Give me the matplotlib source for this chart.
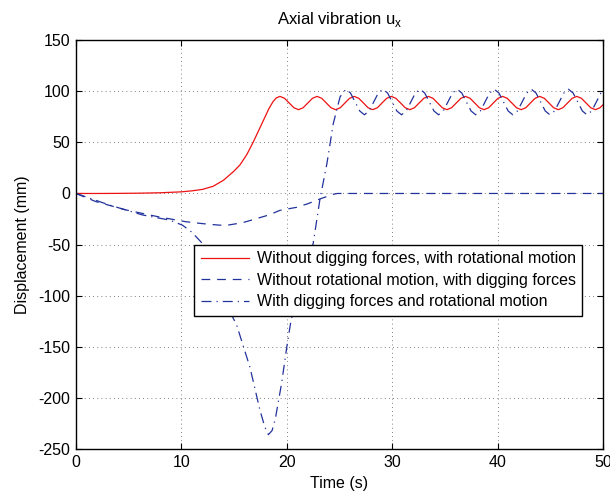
import numpy as np
import matplotlib
matplotlib.use('Agg')
from matplotlib import pyplot as plt

plt.rcParams['font.family'] = ['Liberation Sans', 'DejaVu Sans']
plt.rcParams['axes.unicode_minus'] = False

# red: without digging forces, with rotational motion
t_red = [0, 2, 4, 6, 8, 10, 11, 12, 13, 14, 15, 15.56, 16.2, 16.8, 17.3, 17.8, 18.3, 18.7, 19.0,
         19.35, 19.79, 20.23, 20.67, 21.11, 21.55, 21.99, 22.43,
         22.87, 23.31, 23.75, 24.19, 24.63, 25.07, 25.51, 25.95,
         26.39, 26.83, 27.27, 27.71, 28.15, 28.59, 29.03, 29.47,
         29.91, 30.35, 30.79, 31.23, 31.67, 32.11, 32.55, 32.99,
         33.43, 33.87, 34.31, 34.75, 35.19, 35.63, 36.07, 36.51,
         36.95, 37.39, 37.83, 38.27, 38.71, 39.15, 39.59, 40.03,
         40.47, 40.91, 41.35, 41.79, 42.23, 42.67, 43.11, 43.55,
         43.99, 44.43, 44.87, 45.31, 45.75, 46.19, 46.63, 47.07,
         47.51, 47.95, 48.39, 48.83, 49.27, 49.71, 50.0]
u_red = [0, 0, 0.1, 0.3, 0.7, 1.6, 2.6, 4.0, 7.0, 13.0, 22.0, 28.0, 38.0, 50.0, 61.0, 72.0, 83.0, 90.0, 93.5,
         95.0, 93.1, 88.5, 83.9, 82.0, 83.9, 88.5, 93.1,
         95.0, 93.1, 88.5, 83.9, 82.0, 83.9, 88.5, 93.1,
         95.0, 93.1, 88.5, 83.9, 82.0, 83.9, 88.5, 93.1,
         95.0, 93.1, 88.5, 83.9, 82.0, 83.9, 88.5, 93.1,
         95.0, 93.1, 88.5, 83.9, 82.0, 83.9, 88.5, 93.1,
         95.0, 93.1, 88.5, 83.9, 82.0, 83.9, 88.5, 93.1,
         95.0, 93.1, 88.5, 83.9, 82.0, 83.9, 88.5, 93.1,
         95.0, 93.1, 88.5, 83.9, 82.0, 83.9, 88.5, 93.1,
         95.0, 93.1, 88.5, 83.9, 82.0, 83.9, 86.8]

# dashed: without rotational motion, with digging forces
t_dash = [0, 1.9, 4.7, 7.9, 10.4, 12.0, 13.6, 14.5, 15.8, 17.0, 18.3, 19.35, 20.9, 22.0, 23.1,
          23.8, 24.4, 24.8, 30, 40, 50]
u_dash = [0, -8, -16, -23, -27.6, -29.5, -31, -30.8, -28.6, -25, -21, -16.5, -13.6, -10, -5.5,
          -3, -0.8, 0, 0, 0, 0]

# dash-dot: with digging forces and rotational motion
t_dd = [0, 3.2, 6.3, 8.85, 10.1, 11.0, 12.0, 13.0, 14.0, 15.25, 16.5, 17.45, 17.9, 18.25, 18.6,
        18.9, 19.5, 20.0, 20.4, 21.0, 21.5, 22.0, 22.5, 23.15, 23.8, 24.4, 25.05,
        25.6, 26.04, 26.48, 26.92, 27.36, 27.8, 28.24, 28.68,
        29.12, 29.56, 30.0, 30.44, 30.88, 31.32, 31.76, 32.2,
        32.64, 33.08, 33.52, 33.96, 34.4, 34.84, 35.28, 35.72,
        36.16, 36.6, 37.04, 37.48, 37.92, 38.36, 38.8, 39.24,
        39.68, 40.12, 40.56, 41.0, 41.44, 41.88, 42.32, 42.76,
        43.2, 43.64, 44.08, 44.52, 44.96, 45.4, 45.84, 46.28,
        46.72, 47.16, 47.6, 48.04, 48.48, 48.92, 49.36, 49.8, 50.0]
u_dd = [0, -11.4, -21, -26, -31, -38, -49, -76, -103, -129, -170, -212, -228, -236, -232,
        -221, -186, -150, -124, -100, -82, -66, -49, -5, 29, 68, 94.5,
        102, 98.3, 89.5, 80.7, 77, 80.7, 89.5, 98.3,
        102, 98.3, 89.5, 80.7, 77, 80.7, 89.5, 98.3,
        102, 98.3, 89.5, 80.7, 77, 80.7, 89.5, 98.3,
        102, 98.3, 89.5, 80.7, 77, 80.7, 89.5, 98.3,
        102, 98.3, 89.5, 80.7, 77, 80.7, 89.5, 98.3,
        102, 98.3, 89.5, 80.7, 77, 80.7, 89.5, 98.3,
        102, 98.3, 89.5, 80.7, 77, 80.7, 89.5, 98.3, 100.8]

labels = ['Without digging forces, with rotational motion',
          'Without rotational motion, with digging forces',
          'With digging forces and rotational motion']

fig = plt.figure(figsize=(6.1, 4.96), dpi=100)
ax = fig.add_axes([0.1246, 0.0948, 0.864, 0.8242])

blue = '#22329c'
ax.plot(t_red, u_red, '-', color='#ee1111', lw=0.9, label=labels[0])
ax.plot(t_dash, u_dash, '--', color=blue, lw=0.9, dashes=(7, 5.5), label=labels[1])
ax.plot(t_dd, u_dd, '-.', color=blue, lw=0.9, dashes=(8, 4, 1, 4), label=labels[2])

ax.set_xlim(0, 50)
ax.set_ylim(-250, 150)
ax.set_xticks(range(0, 51, 10))
ax.set_yticks(range(-250, 151, 50))
ax.grid(True, linestyle=(0, (1, 4)), color='#555555', lw=0.6)
ax.tick_params(direction='in', top=True, right=True, length=4, labelsize=11.5, pad=4)
for s in ax.spines.values():
    s.set_linewidth(1.0)

ax.set_xlabel('Time (s)', fontsize=11.5, labelpad=5)
ax.set_ylabel('Displacement (mm)', fontsize=11.5, labelpad=6)
ax.set_title(r'Axial vibration u$_\mathregular{x}$', fontsize=12, pad=12)

leg = ax.legend(loc='upper right', bbox_to_anchor=(0.960, 0.499), fontsize=11.5,
                frameon=True, fancybox=False, framealpha=1, edgecolor='black',
                handlelength=3.0, labelspacing=0.4, borderpad=0.4, handletextpad=0.5,
                borderaxespad=0)
leg.get_frame().set_linewidth(1.0)

fig.savefig('out.png', dpi=100)
